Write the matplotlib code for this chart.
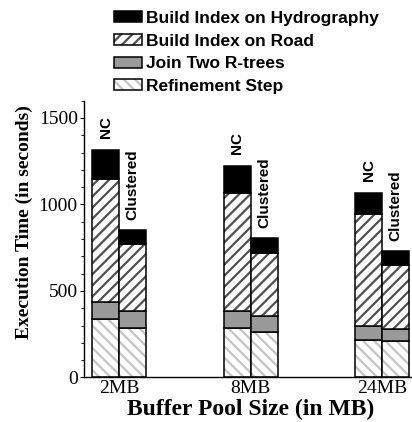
import matplotlib
matplotlib.use("Agg")
import matplotlib.pyplot as plt
import numpy as np
from matplotlib.patches import Patch
from matplotlib.legend_handler import HandlerTuple
from matplotlib.ticker import MultipleLocator

# Execution time (seconds) per step, stacked bottom to top
buffer_sizes = ["2MB", "8MB", "24MB"]
steps = ["Build Index on Hydrography", "Build Index on Road",
         "Join Two R-trees", "Refinement Step"]

nc_refine = [336, 287, 216]
nc_join = [101, 98, 81]
nc_road = [712, 681, 650]
nc_hydro = [168, 156, 119]

cl_refine = [284, 264, 211]
cl_join = [100, 91, 69]
cl_road = [385, 365, 369]
cl_hydro = [86, 89, 84]

plt.rcParams["hatch.linewidth"] = 1.6

# style per step: (face, hatch, hatch colour)
styles = {
    "refine": ("white", "\\\\\\", "#c4c4c4"),
    "join": ("#999999", "", "#999999"),
    "road": ("white", "///", "#505050"),
    "hydro": ("black", "", "black"),
}

fig = plt.figure(figsize=(4.12, 4.22), dpi=100)
ax = fig.add_axes([0.2039, 0.1055, 0.7961, 0.656])

x = np.arange(len(buffer_sizes))
width = 0.205


def draw_stack(xpos, parts):
    bottom = np.zeros(len(xpos))
    for key, vals in parts:
        face, hatch, hcol = styles[key]
        ax.bar(xpos, vals, width, bottom=bottom, color=face, hatch=hatch,
               edgecolor=hcol, linewidth=0, align="edge")
        ax.bar(xpos, vals, width, bottom=bottom, fill=False,
               edgecolor="black", linewidth=1.1, align="edge")
        bottom = bottom + np.array(vals)
    return bottom


nc_top = draw_stack(x - width, [("refine", nc_refine), ("join", nc_join),
                                ("road", nc_road), ("hydro", nc_hydro)])
cl_top = draw_stack(x, [("refine", cl_refine), ("join", cl_join),
                        ("road", cl_road), ("hydro", cl_hydro)])

sans = "Liberation Sans"
serif = "Liberation Serif"

for i in range(len(x)):
    ax.annotate("NC", (x[i] - width / 2, nc_top[i]), xytext=(0, 8.5),
                textcoords="offset points", rotation=90, ha="center",
                va="bottom", fontsize=11, fontweight="bold", family=sans)
    ax.annotate("Clustered", (x[i] + width / 2, cl_top[i]), xytext=(0, 7),
                textcoords="offset points", rotation=90, ha="center",
                va="bottom", fontsize=11, fontweight="bold", family=sans)

ax.set_xlim(-0.266, 2.226)
ax.set_ylim(0, 1600)
ax.set_xticks(x)
ax.set_xticklabels(buffer_sizes, family=serif, fontsize=14)
ax.tick_params(axis="x", length=0, pad=2)
ax.set_yticks([0, 500, 1000, 1500])
ax.set_yticklabels(["0", "500", "1000", "1500"], family=serif, fontsize=14)
ax.yaxis.set_minor_locator(MultipleLocator(100))
ax.tick_params(axis="y", which="major", direction="out", length=3, width=0.8, pad=1.5)
ax.tick_params(axis="y", which="minor", direction="out", length=2, width=0.6)

ax.spines["top"].set_visible(False)
ax.spines["right"].set_visible(False)
ax.spines["left"].set_linewidth(1.0)
ax.spines["bottom"].set_linewidth(1.0)

ax.set_xlabel("Buffer Pool Size (in MB)", family=serif, fontsize=17,
              fontweight="bold")
ax.xaxis.set_label_coords(0.508, -0.078)
ax.set_ylabel("Execution Time (in seconds)", family=serif, fontsize=14,
              fontweight="bold")
ax.yaxis.set_label_coords(-0.155, 0.56)

# legend handles: hatched fill with a black outline on top
handles = []
for key in ["hydro", "road", "join", "refine"]:
    face, hatch, hcol = styles[key]
    fill = Patch(facecolor=face, hatch=hatch, edgecolor=hcol, linewidth=0)
    outline = Patch(fill=False, edgecolor="black", linewidth=1.1)
    handles.append((fill, outline))

fig.legend(handles, steps, loc="upper left",
           bbox_to_anchor=(114 / 412, 1 - 11 / 422), frameon=False,
           prop={"family": sans, "weight": "bold", "size": 12.5},
           handlelength=1.6, handleheight=0.58, handletextpad=0.25,
           labelspacing=0.44, borderpad=0, borderaxespad=0,
           handler_map={tuple: HandlerTuple(ndivide=1, pad=0)})

fig.savefig("out.png", dpi=100)
